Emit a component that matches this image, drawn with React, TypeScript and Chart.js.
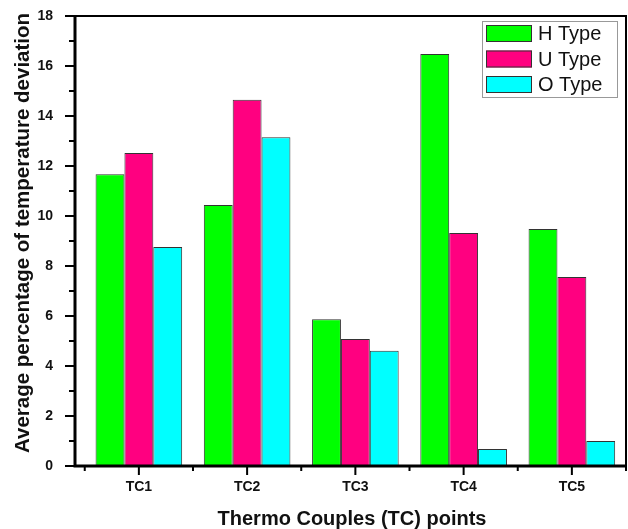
import { useEffect, useRef } from "react";
import { Chart, registerables } from "chart.js";

Chart.register(...registerables);

const categories = ["TC1", "TC2", "TC3", "TC4", "TC5"];
const hType = [11.67, 10.44, 5.87, 16.48, 9.48];
const uType = [12.52, 14.65, 5.08, 9.32, 7.56];
const oType = [8.76, 13.15, 4.61, 0.68, 1.0];
const seriesNames = ["H Type", "U Type", "O Type"];
const seriesColors = ["#00FF00", "#FF0080", "#00FFFF"];
const yTickValues = [0, 2, 4, 6, 8, 10, 12, 14, 16, 18];
const xTitle = "Thermo Couples (TC) points";
const yTitle = "Average percentage of temperature deviation";

const FONT = "'Liberation Sans', Arial, Helvetica, sans-serif";

const decorPlugin = {
  id: "decor",
  afterDraw(chart: any) {
    const { ctx, chartArea: a, scales } = chart;
    const xs = scales.x;
    const ys = scales.y;
    ctx.save();
    ctx.strokeStyle = "#000";
    ctx.lineCap = "butt";

    // tick marks (major + minor)
    ctx.lineWidth = 2;
    ctx.beginPath();
    for (let i = 0; i < yTickValues.length; i++) {
      const v = yTickValues[i];
      const py = ys.getPixelForValue(v);
      ctx.moveTo(a.left - 10, py);
      ctx.lineTo(a.left, py);
      if (i < yTickValues.length - 1) {
        const mid = (v + yTickValues[i + 1]) / 2;
        const pm = ys.getPixelForValue(mid);
        ctx.moveTo(a.left - 6, pm);
        ctx.lineTo(a.left, pm);
      }
    }
    for (let i = 0; i < categories.length; i++) {
      const px = xs.getPixelForValue(i + 1);
      ctx.moveTo(px, a.bottom);
      ctx.lineTo(px, a.bottom + 9);
    }
    for (let i = 0; i <= categories.length; i++) {
      const px = xs.getPixelForValue(i + 0.5);
      ctx.moveTo(px, a.bottom);
      ctx.lineTo(px, a.bottom + 5);
    }
    ctx.stroke();

    // frame
    ctx.lineWidth = 2;
    ctx.beginPath();
    ctx.moveTo(a.left, a.top);
    ctx.lineTo(a.right, a.top);
    ctx.lineTo(a.right, a.bottom);
    ctx.stroke();
    ctx.lineWidth = 3;
    ctx.beginPath();
    ctx.moveTo(a.left, a.top - 1);
    ctx.lineTo(a.left, a.bottom);
    ctx.lineTo(a.right + 1, a.bottom);
    ctx.stroke();

    // legend
    const lx1 = a.right - 9;
    const lx0 = lx1 - 135;
    const ly0 = a.top + 5;
    const rowH = 25.5;
    ctx.fillStyle = "#fff";
    ctx.fillRect(lx0, ly0, lx1 - lx0, 76);
    ctx.lineWidth = 1;
    ctx.strokeStyle = "#999";
    ctx.strokeRect(lx0 + 0.5, ly0 + 0.5, lx1 - lx0, 76);
    ctx.font = `20px ${FONT}`;
    ctx.textBaseline = "middle";
    ctx.textAlign = "left";
    chart.data.datasets.forEach((ds: any, i: number) => {
      const sy = ly0 + 4 + i * rowH;
      ctx.fillStyle = ds.backgroundColor;
      ctx.fillRect(lx0 + 4, sy, 46, 17);
      ctx.strokeStyle = "#333";
      ctx.strokeRect(lx0 + 4.5, sy + 0.5, 45, 16);
      ctx.fillStyle = "#111";
      ctx.fillText(ds.label, lx0 + 56, sy + 9.5);
    });

    // axis titles
    ctx.fillStyle = "#111";
    ctx.font = `bold 20px ${FONT}`;
    ctx.textAlign = "center";
    ctx.textBaseline = "alphabetic";
    ctx.fillText(xTitle, (a.left + a.right) / 2 + 1.5, 525);

    ctx.save();
    ctx.translate(29, (a.top + a.bottom) / 2 - 8);
    ctx.rotate(-Math.PI / 2);
    ctx.font = `bold 20.5px ${FONT}`;
    ctx.fillText(yTitle, 0, 0);
    ctx.restore();

    ctx.restore();
  },
};

export default function App() {
  const canvasRef = useRef<HTMLCanvasElement | null>(null);

  useEffect(() => {
    if (!canvasRef.current) return;
    const toPoints = (arr: number[]) => arr.map((v, i) => ({ x: i + 1, y: v }));
    const seriesValues = [hType, uType, oType];
    const chart = new Chart(canvasRef.current, {
      type: "bar",
      data: {
        datasets: seriesValues.map((vals, i) => ({
          label: seriesNames[i],
          data: toPoints(vals),
          backgroundColor: seriesColors[i],
          borderColor: "#333333",
          borderWidth: 1,
          categoryPercentage: 0.8,
          barPercentage: 1.0,
        })),
      },
      options: {
        animation: false,
        responsive: true,
        maintainAspectRatio: false,
        events: [],
        layout: { padding: { top: 16, right: 2, left: 0, bottom: 0 } },
        plugins: {
          legend: { display: false },
          tooltip: { enabled: false },
        },
        scales: {
          x: {
            type: "linear",
            offset: false,
            min: 0.41,
            max: 5.5,
            grid: { display: false, offset: false },
            border: { display: false },
            afterBuildTicks: (scale: any) => {
              scale.ticks = categories.map((_, i) => ({ value: i + 1 }));
            },
            afterFit: (scale: any) => {
              scale.height = 63;
            },
            ticks: {
              autoSkip: false,
              maxRotation: 0,
              padding: 5,
              color: "#111",
              font: { family: FONT, size: 14, weight: "bold" },
              callback: (v: any) => categories[Math.round(v) - 1] ?? "",
            },
          },
          y: {
            min: 0,
            max: 18,
            grid: { display: false },
            border: { display: false },
            afterFit: (scale: any) => {
              scale.width = 75;
              scale.paddingTop = 0;
              scale.paddingBottom = 0;
            },
            afterBuildTicks: (scale: any) => {
              scale.ticks = yTickValues.map((v) => ({ value: v }));
            },
            ticks: {
              padding: 14,
              color: "#111",
              font: { family: FONT, size: 14, weight: "bold" },
            },
          },
        },
      },
      plugins: [decorPlugin],
    } as any);
    return () => chart.destroy();
  }, []);

  return (
    <div style={{ position: "fixed", left: 0, top: 0, width: 628, height: 529, background: "#fff" }}>
      <canvas ref={canvasRef} />
    </div>
  );
}
